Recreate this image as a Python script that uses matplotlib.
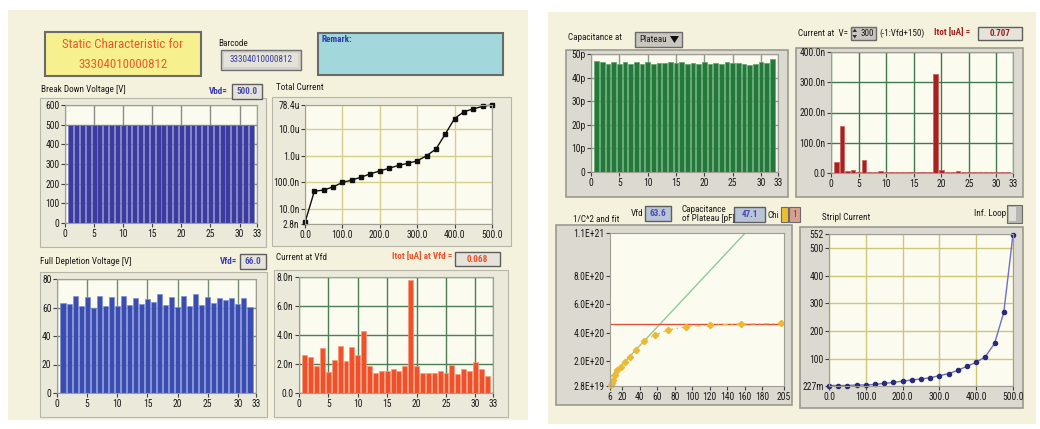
import matplotlib
matplotlib.use('Agg')
import matplotlib.pyplot as plt
from matplotlib import font_manager as fm
from matplotlib.patches import Rectangle, Polygon
from matplotlib.ticker import FixedLocator, FixedFormatter

W, H = 1040, 429

# pick a narrow font if one is installed
_names = {(f.name, f.stretch) for f in fm.fontManager.ttflist}
_fams = {n for n, s in _names}
STRETCH = 'normal'
if 'Liberation Sans Narrow' in _fams:
    FONT = ['Liberation Sans Narrow', 'DejaVu Sans']
    BASE = 6.8
elif 'Roboto Condensed' in _fams:
    FONT = ['Roboto Condensed', 'DejaVu Sans']
    BASE = 6.6
elif ('DejaVu Sans', 'condensed') in _names or ('DejaVu Sans', 'semi-condensed') in _names:
    FONT = ['DejaVu Sans']
    STRETCH = 'condensed'
    BASE = 6.0
else:
    FONT = ['Liberation Sans', 'DejaVu Sans']
    BASE = 6.2
plt.rcParams['font.family'] = FONT
plt.rcParams['font.stretch'] = STRETCH

# ---------------- data ----------------
channels = list(range(1, 33))
breakdown_v = [500.0] * 32
full_depletion_v = [62.9, 62.7, 68.0, 61.0, 67.6, 59.9, 68.3, 61.3, 67.6, 61.3, 68.3, 62.0,
                    66.9, 62.5, 66.2, 64.0, 69.2, 62.0, 67.6, 60.5, 68.0, 61.3, 69.2, 62.0,
                    67.6, 62.9, 67.0, 65.5, 67.0, 62.5, 67.0, 60.5]
current_at_vfd_n = [2.63, 2.47, 1.83, 3.13, 1.42, 2.29, 3.25, 2.24, 3.18, 2.63, 4.30, 1.87,
                    1.40, 1.55, 1.49, 1.65, 1.49, 1.87, 7.80, 1.83, 1.40, 1.40, 1.40, 1.55,
                    1.35, 1.94, 1.33, 1.65, 1.49, 2.17, 1.65, 1.14]
capacitance_p = [47.0, 46.5, 45.8, 46.4, 45.8, 46.6, 45.8, 46.4, 45.7, 46.6, 45.8, 46.0,
                 46.2, 46.6, 46.2, 46.4, 45.8, 46.2, 45.8, 46.6, 45.8, 46.2, 45.8, 46.6,
                 46.2, 46.2, 45.8, 45.4, 45.8, 46.6, 46.2, 47.8]
current_at_v_n = [38, 155, 5, 10, 3, 42, 3, 2, 6, 3, 3, 3, 3, 3, 3, 3, 3, 3,
                  328, 10, 3, 3, 6, 3, 3, 3, 3, 3, 3, 3, 3, 3]

iv_voltage = [0, 25, 50, 75, 100, 125, 150, 175, 200, 225, 250, 275, 300, 325, 350,
              375, 400, 425, 450, 475, 500]
total_current_a = [3.2e-9, 4.7e-8, 5.2e-8, 6.8e-8, 1.0e-7, 1.23e-7, 1.57e-7, 2.11e-7,
                   2.68e-7, 3.4e-7, 4.32e-7, 5.19e-7, 6.4e-7, 1.0e-6, 1.76e-6, 6.4e-6,
                   2.45e-5, 4.4e-5, 5.6e-5, 7.0e-5, 7.84e-5]
strip_current = [2, 2, 2, 4, 4, 6, 10, 13, 18, 22, 26, 30, 38, 45, 57, 72, 86, 107,
                 155, 268, 550]

cv_voltage = [6.8, 7.9, 9.4, 11.7, 14.3, 18.2, 22.8, 28.5, 35.4, 44.9, 57.5, 72.7,
              93.3, 120.4, 155.5, 201.0]
inv_c2 = [3.5e19, 5.0e19, 6.8e19, 1.02e20, 1.37e20, 1.64e20, 1.93e20, 2.32e20, 2.78e20,
          3.46e20, 3.84e20, 4.21e20, 4.43e20, 4.55e20, 4.62e20, 4.66e20]
fit_slope = 6.55e18
fit_intercept = 4.8e19
plateau_level = 4.59e20
fit_x_range = [6, 205]

bar_xticks = [0, 5, 10, 15, 20, 25, 30, 33]
bar_xlabels = ['0', '5', '10', '15', '20', '25', '30', '33']
bd_yticks = [0, 100, 200, 300, 400, 500, 600]
bd_ylabels = ['0', '100', '200', '300', '400', '500', '600']
fd_yticks = [0, 20, 40, 60, 80]
fd_ylabels = ['0', '20', '40', '60', '80']
cvfd_yticks = [0, 2, 4, 6, 8]
cvfd_ylabels = ['0.0', '2.0n', '4.0n', '6.0n', '8.0n']
cap_yticks = [0, 10, 20, 30, 40, 50]
cap_ylabels = ['0', '10p', '20p', '30p', '40p', '50p']
cv_yticks = [0, 100, 200, 300, 400]
cv_ylabels = ['0.0', '100.0n', '200.0n', '300.0n', '400.0n']
iv_xticks = [0, 100, 200, 300, 400, 500]
iv_xlabels = ['0.0', '100.0', '200.0', '300.0', '400.0', '500.0']
tc_yticks = [2.8e-9, 1e-8, 1e-7, 1e-6, 1e-5, 7.84e-5]
tc_ylabels = ['2.8n', '10.0n', '100.0n', '1.0u', '10.0u', '78.4u']
c2_xticks = [6, 20, 40, 60, 80, 100, 120, 140, 160, 180, 205]
c2_xlabels = ['6', '20', '40', '60', '80', '100', '120', '140', '160', '180', '205']
c2_yticks = [2.8e19, 2e20, 4e20, 6e20, 8e20, 1.1e21]
c2_ylabels = ['2.8E+19', '2.0E+20', '4.0E+20', '6.0E+20', '8.0E+20', '1.1E+21']
sc_yticks = [0.227, 100, 200, 300, 400, 500, 552]
sc_ylabels = ['227m', '100', '200', '300', '400', '500', '552']

# ---------------- figure ----------------
fig = plt.figure(figsize=(W / 100, H / 100), dpi=100)
fig.patch.set_facecolor('white')
bg = fig.add_axes([0, 0, 1, 1])
bg.set_xlim(0, W)
bg.set_ylim(H, 0)
bg.axis('off')

PANEL = '#F4F2DC'
FRAME = '#EBE9DA'
FRAME_R = '#DCDAD0'
PLOT_BG = '#FCFBF0'
TICK = BASE + 0.3


def rect(x0, y0, x1, y1, fc, ec='none', lw=1.0, z=1):
    bg.add_patch(Rectangle((x0, y0), x1 - x0, y1 - y0, facecolor=fc, edgecolor=ec,
                           lw=lw, zorder=z))


def txt(x, y, s, size=None, color='#1A1A1A', ha='left', va='center', weight='normal', z=5):
    bg.text(x, y, s, fontsize=size if size else BASE, color=color, ha=ha, va=va,
            fontweight=weight, zorder=z, linespacing=1.0)


def valbox(x0, y0, x1, y1, s, color, fc='#E6E4DA'):
    rect(x0, y0, x1, y1, fc, ec='#5E5E5E', lw=1.0, z=3)
    txt((x0 + x1) / 2, (y0 + y1) / 2, s, color=color, ha='center', weight='bold')


def make_ax(x0, y0, x1, y1):
    return fig.add_axes([x0 / W, 1 - y1 / H, (x1 - x0) / W, (y1 - y0) / H])


def style(ax, grid_color, xt, xl, yt, yl):
    ax.set_facecolor(PLOT_BG)
    ax.xaxis.set_major_locator(FixedLocator(xt))
    ax.xaxis.set_major_formatter(FixedFormatter(xl))
    ax.yaxis.set_major_locator(FixedLocator(yt))
    ax.yaxis.set_major_formatter(FixedFormatter(yl))
    ax.minorticks_off()
    ax.tick_params(axis='both', direction='out', length=3, width=0.8, color='#404040',
                   labelsize=TICK, labelcolor='#1A1A1A', pad=1)
    for sp in ax.spines.values():
        sp.set_color('#A09E94')
        sp.set_linewidth(0.8)
    if grid_color:
        ax.grid(True, color=grid_color, linewidth=1.0)
        ax.set_axisbelow(True)


# panels
rect(8, 10, 528, 420, PANEL, z=0)
rect(548, 12, 1036, 424, PANEL, z=0)

# header
rect(45, 32, 201, 76, '#F7F08E', ec='#6A6A6A', lw=1.5, z=2)
txt(123, 44, 'Static Characteristic for', size=BASE * 1.4, color='#E85A28', ha='center')
txt(123, 64, '33304010000812', size=BASE * 1.4, color='#E85A28', ha='center')
txt(218, 44, 'Barcode')
rect(221, 50, 301, 70, '#D4D2CA', ec='#707070', lw=1.0, z=2)
rect(224, 53, 298, 67, '#E4E2DA', z=2)
txt(261, 60, '33304010000812', color='#3C3C9C', ha='center')
rect(318, 33, 503, 75, '#A2D8DC', ec='#6A6A6A', lw=1.5, z=2)
txt(321, 39, 'Remark:', color='#2C3CB0', weight='bold')

# frames
rect(40, 98, 266, 247, FRAME, ec='#B8B6AA', lw=0.8, z=1)
rect(272, 97, 511, 246, FRAME, ec='#B8B6AA', lw=0.8, z=1)
rect(40, 272, 267, 417, FRAME, ec='#B8B6AA', lw=0.8, z=1)
rect(274, 270, 508, 417, FRAME, ec='#B8B6AA', lw=0.8, z=1)
rect(566, 50, 788, 197, FRAME_R, ec='#9C9A90', lw=1.2, z=1)
rect(796, 48, 1023, 197, FRAME_R, ec='#9C9A90', lw=1.2, z=1)
rect(556, 225, 792, 405, FRAME_R, ec='#9C9A90', lw=1.2, z=1)
rect(800, 227, 1023, 408, FRAME_R, ec='#9C9A90', lw=1.2, z=1)

# left panel labels
txt(41, 90, 'Break Down Voltage [V]')
txt(228, 92, 'Vbd=', color='#3A3AB0', ha='right', weight='bold')
valbox(232, 84, 262, 99, '500.0', '#4A4AB0')
txt(276, 88, 'Total Current')
txt(40, 262, 'Full Depletion Voltage [V]')
txt(237, 262, 'Vfd=', color='#3A3AB0', ha='right', weight='bold')
valbox(240, 254, 266, 269, '66.0', '#4A4AB0')
txt(276, 258, 'Current at Vfd')
txt(452, 257, 'Itot [uA] at Vfd =', color='#E8502E', ha='right', weight='bold')
valbox(455, 252, 500, 266, '0.068', '#E8502E')

# right panel labels
txt(568, 38, 'Capacitance at')
rect(635, 32, 682, 47, '#C8C6BE', ec='#6A6A6A', lw=1.0, z=2)
txt(639, 39.5, 'Plateau')
bg.add_patch(Polygon([[670, 36], [679, 36], [674.5, 43]], closed=True, facecolor='#101010', zorder=4))
txt(848, 33, 'Current at  V=', ha='right')
rect(851, 27, 876, 40, '#C8C6BE', ec='#6A6A6A', lw=1.0, z=2)
txt(867, 33.5, '300', ha='center')
bg.add_patch(Polygon([[852.5, 32], [857, 32], [854.75, 28.5]], closed=True, facecolor='#303030', zorder=4))
bg.add_patch(Polygon([[852.5, 35], [857, 35], [854.75, 38.5]], closed=True, facecolor='#303030', zorder=4))
txt(879, 33, '(-1:Vfd+150)')
txt(934, 33, 'Itot [uA] =', color='#A02020', weight='bold')
valbox(978, 27, 1022, 40, '0.707', '#A02020')

txt(573, 220, '1/C^2 and fit')
txt(631, 213, 'Vfd')
valbox(645, 206, 671, 221, '63.6', '#4A4AB0', fc='#B8C4D8')
txt(682, 214, 'Capacitance\nof Plateau [pF]')
valbox(734, 207, 765, 222, '47.1', '#4A4AB0', fc='#B8C4D8')
txt(767, 215, 'Chi')
rect(781, 207, 788, 222, '#E8C030', ec='#6A6A6A', lw=0.8, z=2)
rect(789, 207, 800, 222, '#D8A090', ec='#6A6A6A', lw=0.8, z=2)
txt(794.5, 214.5, '1', ha='center', color='#903020')
txt(822, 217, 'Stripl Current')
txt(974, 214, 'Inf. Loop')
rect(1007, 205, 1022, 223, '#B8B6B0', ec='#6A6A6A', lw=0.8, z=2)
rect(1009, 207, 1016, 221, '#E0DED8', z=3)

# ---------------- graphs ----------------
# Break down voltage
ax = make_ax(65, 105, 257, 223)
ax.bar(channels, breakdown_v, width=0.84, color='#3C3CA0', edgecolor='#7E7EC8', linewidth=0.5)
ax.set_xlim(0, 33)
ax.set_ylim(0, 600)
style(ax, '#8C8C84', bar_xticks, bar_xlabels, bd_yticks, bd_ylabels)

# Total current
ax = make_ax(305, 105, 492, 224)
ax.plot(iv_voltage, total_current_a, color='#101010', linewidth=1.0, marker='s',
        markersize=3.2, clip_on=False)
ax.set_yscale('log')
ax.set_xlim(0, 500)
ax.set_ylim(2.8e-9, 7.84e-5)
style(ax, '#D6CF8A', iv_xticks, iv_xlabels, tc_yticks, tc_ylabels)

# Full depletion voltage
ax = make_ax(57, 279, 256, 393)
ax.bar(channels, full_depletion_v, width=0.84, color='#3B4CB0', edgecolor='#8090D8', linewidth=0.5)
ax.set_xlim(0, 33)
ax.set_ylim(0, 80)
style(ax, '#6E8E6E', bar_xticks, bar_xlabels, fd_yticks, fd_ylabels)

# Current at Vfd
ax = make_ax(299, 277, 493, 393)
ax.bar(channels, current_at_vfd_n, width=0.84, color='#F0502A', edgecolor='#F89A7A', linewidth=0.5)
ax.set_xlim(0, 33)
ax.set_ylim(0, 8)
style(ax, '#4E7E56', bar_xticks, bar_xlabels, cvfd_yticks, cvfd_ylabels)

# Capacitance
ax = make_ax(591, 54, 778, 172)
ax.bar(channels, capacitance_p, width=0.84, color='#217A3A', edgecolor='#5FA070', linewidth=0.5)
ax.set_xlim(0, 33)
ax.set_ylim(0, 50)
style(ax, '#8A9A8A', bar_xticks, bar_xlabels, cap_yticks, cap_ylabels)

# Current at V
ax = make_ax(831, 52, 1013, 173)
ax.bar(channels, current_at_v_n, width=0.84, color='#A82020', edgecolor='#C85A5A', linewidth=0.5)
ax.set_xlim(0, 33)
ax.set_ylim(0, 400)
style(ax, '#3E7A4E', bar_xticks, bar_xlabels, cv_yticks, cv_ylabels)

# 1/C^2 and fit
ax = make_ax(610, 233, 784, 386)
fx = fit_x_range
ax.plot(fx, [fit_intercept + fit_slope * v for v in fx], color='#8CCB9A', linewidth=1.0)
ax.plot(fx, [plateau_level, plateau_level], color='#E0503A', linewidth=1.0)
ax.plot(cv_voltage, inv_c2, color='#F0B830', linewidth=0.9, linestyle=(0, (4, 3, 1, 3)),
        marker='D', markersize=3.2, clip_on=False)
ax.set_xlim(6, 205)
ax.set_ylim(2.8e19, 1.1e21)
style(ax, None, c2_xticks, c2_xlabels, c2_yticks, c2_ylabels)

# Strip current
ax = make_ax(829, 234, 1013, 386)
ax.plot(iv_voltage, strip_current, color='#7070C0', linewidth=1.0, marker='o',
        markersize=3.0, markerfacecolor='#2A2A78', markeredgecolor='#2A2A78', clip_on=False)
ax.set_xlim(0, 500)
ax.set_ylim(0.227, 552)
style(ax, '#CFC67A', iv_xticks, iv_xlabels, sc_yticks, sc_ylabels)

fig.savefig('out.png', dpi=100, facecolor='white')
